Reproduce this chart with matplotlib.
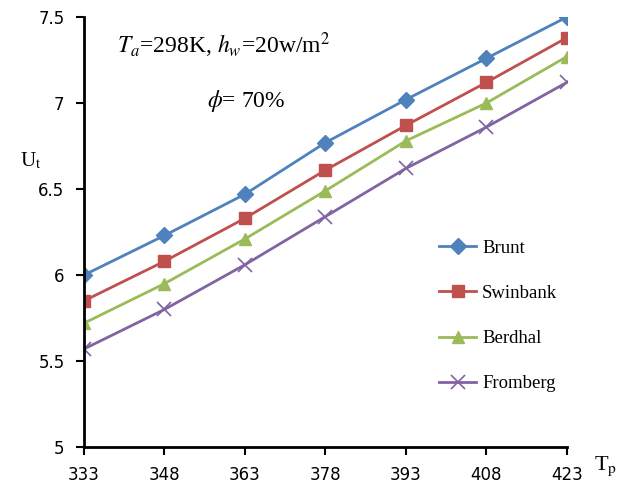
import matplotlib as mpl
import matplotlib.pyplot as plt

mpl.use("Agg")
plt.rcParams["mathtext.fontset"] = "stix"

tp = [333, 348, 363, 378, 393, 408, 423]
brunt = [6.00, 6.23, 6.47, 6.77, 7.02, 7.26, 7.50]
swinbank = [5.85, 6.08, 6.33, 6.61, 6.87, 7.12, 7.38]
berdhal = [5.72, 5.95, 6.21, 6.49, 6.78, 7.00, 7.27]
fromberg = [5.57, 5.80, 6.06, 6.34, 6.62, 6.86, 7.12]
yticks = [5, 5.5, 6, 6.5, 7, 7.5]
ytick_labels = ["5", "5.5", "6", "6.5", "7", "7.5"]

fig = plt.figure(figsize=(6.27, 4.88), dpi=100)
ax = fig.add_axes([0.134, 0.084, 0.770, 0.881])

ax.plot(tp, brunt, color="#4F81BD", marker="D", markersize=8, lw=2, label="Brunt")
ax.plot(tp, swinbank, color="#C0504D", marker="s", markersize=9, lw=2, label="Swinbank")
ax.plot(tp, berdhal, color="#9BBB59", marker="^", markersize=9, lw=2, label="Berdhal")
ax.plot(tp, fromberg, color="#8064A2", marker="x", markersize=10, mew=1.2, lw=2,
        label="Fromberg")

ax.set_xlim(333, 423)
ax.set_ylim(5, 7.5)
ax.set_xticks(tp)
ax.set_yticks(yticks)
ax.set_yticklabels(ytick_labels)
for s in ["top", "right"]:
    ax.spines[s].set_visible(False)
for s in ["left", "bottom"]:
    ax.spines[s].set_linewidth(2)
    ax.spines[s].set_clip_on(False)
ax.tick_params(direction="out", length=6, width=1.5, pad=8)
tick_font = ["Liberation Sans Narrow", "DejaVu Sans"]
for lab in ax.get_xticklabels() + ax.get_yticklabels():
    lab.set_family(tick_font)
    lab.set_fontsize(12)

ax.text(-0.11, 0.665, "U$_\\mathrm{t}$", transform=ax.transAxes, fontsize=15,
        family="Liberation Serif", ha="center", va="center")
ax.text(1.08, -0.045, "T$_\\mathrm{p}$", transform=ax.transAxes, fontsize=16,
        family="Liberation Serif", ha="center", va="center")

ax.text(0.29, 0.935, "$T_a$=298K, $h_w$=20w/m$^2$", transform=ax.transAxes,
        fontsize=17, family="Liberation Serif", ha="center", va="center")
ax.text(0.335, 0.805, "$\\phi$= 70%", transform=ax.transAxes,
        fontsize=17, family="Liberation Serif", ha="center", va="center")

ax.legend(loc="center left", bbox_to_anchor=(0.7, 0.305), frameon=False,
          prop={"family": "Liberation Serif", "size": 13.5}, labelspacing=1.5,
          handlelength=2.0, handletextpad=0.3)

fig.savefig("out.png", dpi=100)
